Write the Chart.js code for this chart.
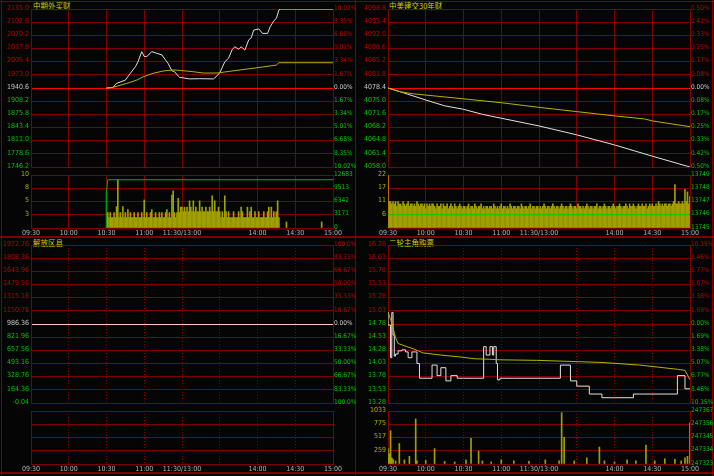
<!DOCTYPE html>
<html>
<head>
<meta charset="utf-8">
<script src="https://cdn.jsdelivr.net/npm/chart.js@4.4.0/dist/chart.umd.min.js"></script>
<style>
html,body{margin:0;padding:0;background:#000;}
#box{position:relative;width:714px;height:476px;overflow:hidden;background:#050505;}
#box canvas{position:absolute;}
.ln{position:absolute;background:#800000;}
.ttl{position:absolute;color:#d0d000;font:7.5px "Noto Sans CJK SC";line-height:9px;white-space:nowrap;}
</style>
</head>
<body>
<div id="box">
  <div class="ln" style="left:0;top:1px;width:714px;height:1px"></div>
  <div class="ln" style="left:1px;top:0;width:1px;height:476px"></div>
  <div class="ln" style="left:355px;top:0;width:1px;height:476px"></div>
  <div class="ln" style="left:712px;top:0;width:1px;height:476px"></div>
  <div class="ln" style="left:0;top:236px;width:714px;height:2px"></div>
  <div class="ln" style="left:0;top:472px;width:714px;height:2px"></div>
  <div class="ttl" style="left:33px;top:1px">中期外买财</div>
  <div class="ttl" style="left:389px;top:1px">中美建交30年财</div>
  <div class="ttl" style="left:33px;top:238px">解放区县</div>
  <div class="ttl" style="left:389px;top:238px">二轮主角购票</div>
</div>
<script>
// minute axis: 0 = 09:30, 120 = 11:30/13:00, 240 = 15:00
var timeTicks = [0, 30, 60, 90, 120, 150, 180, 210, 240];
var timeLabels = ['09:30', '10:00', '10:30', '11:00', '11:30/13:00', '', '14:00', '14:30', '15:00'];

// ---- top left
var tlPriceLbl = ['2135.0','2102.6','2070.2','2037.8','2005.4','1973.0','1940.6','1908.2','1875.8','1843.4','1811.0','1778.6','1746.2'];
var tlPctLbl = ['10.02%','8.35%','6.68%','5.01%','3.34%','1.67%','0.00%','1.67%','3.34%','5.01%','6.68%','8.35%','10.02%'];
var tlMin = [60,65,68,75,79,83,85,88,90,92,96,100,104,107,109,112,114,117,118,126,134,145,147,150,154,157,160,162,165,167,170,173,175,177,181,184,188,190,193,195,197,198,240];
var tlLast = [1940.6,1942,1952,1960,1977,1993,2005,2030,2018,2018,2030,2026,2022,2009,2001,1983,1981,1970,1967,1963,1963.5,1963,1968,1978,2005,2014,2036,2042,2036,2042,2034,2059,2064,2083,2086,2075,2075,2091,2106,2112,2132.5,2135,2135];
var tlAvgMin = [60,65,76,84,89,97,105,113,118,128,137,148,158,171,182,195,197,240];
var tlAvg = [1940.6,1942,1952,1960,1968,1976.8,1982.4,1985,1984,1981,1977.5,1977.5,1981.7,1987,1991.5,1997,2002.8,2002.8];
var tlVolLeft = ['10','8','5','3',''];
var tlVolRight = ['12683','9513','6342','3171','0'];
var tlVolStart = 60;
var tlVol = [8700,3700,2500,3700,2500,2500,3700,2500,5100,11500,
 2500,3700,2500,5100,2500,3700,2500,4400,2500,3700,
 2500,2500,3700,2500,2500,3700,2500,2500,3700,2500,
 6700,2500,3700,2500,2500,3700,4400,2500,2500,3700,
 2500,2500,3700,2500,3700,2500,2500,3700,4400,2500,
 3700,2500,7900,8900,3700,2500,3700,7100,3700,5000,
 5000,3900,5000,3900,5000,3900,6500,5000,3900,6500,
 3900,5000,3900,3900,6500,3900,5000,3900,3900,5000,
 3900,3900,5000,3900,7700,3900,6500,3900,3900,5000,
 3900,2500,3900,2500,7700,3900,2500,3900,2500,2500,
 2500,3900,2500,2500,2500,3900,2500,5000,3900,2500,
 2500,2500,5000,2500,3900,5000,2500,2500,3900,2500,
 2500,3900,2500,2500,2500,3900,2500,2500,3900,5000,
 2500,5000,2500,3900,2500,3900,6500,2500];
var tlVolLateMin = [203, 231];
var tlVolLate = [1450, 1450];
var tlRatioMin = [60, 61, 240];
var tlRatio = [8700, 11545, 11545];

// ---- top right
var trPriceLbl = ['4098.8','4095.4','4092.0','4088.6','4085.2','4081.8','4078.4','4075.0','4071.6','4068.2','4064.8','4061.4','4058.0'];
var trPctLbl = ['0.50%','0.42%','0.33%','0.25%','0.17%','0.08%','0.00%','0.08%','0.17%','0.25%','0.33%','0.42%','0.50%'];
var trMin = [0,10,30,45,60,75,90,120,150,180,210,240];
var trLast = [4078.4,4077.4,4075.3,4073.8,4072.9,4071.6,4070.6,4068.6,4066.3,4063.7,4060.8,4058.0];
var trAvgMin = [0,10,20,60,90,120,150,180,204,210,240];
var trAvg = [4078.4,4077.4,4076.9,4075.6,4074.6,4073.4,4072.3,4071.2,4070.4,4069.9,4068.4];
var trVolLeft = ['22','17','11','6',''];
var trVolRight = ['13749','13748','13747','13746','13745'];
var trVol = [22,
 11,11,10,11,10,11,9,11,10,10,9,11,10,9,10,11,9,10,10,9,
 10,9,11,10,9,10,10,9,10,8,10,9,10,9,10,10,9,8,10,9,
 9,10,8,10,9,9,10,8,9,10,9,8,10,9,8,9,10,9,8,9,
 9,8,9,10,8,9,9,8,10,9,8,9,9,10,8,9,8,9,9,8,
 9,9,8,10,9,8,9,8,9,10,8,9,9,8,9,8,10,9,8,9,
 9,8,9,9,8,10,9,8,9,9,8,9,10,8,9,9,8,9,9,8,
 9,8,9,10,9,8,9,9,8,9,10,9,8,9,9,8,9,10,9,8,
 9,9,8,9,10,9,8,9,9,8,10,9,9,8,9,8,9,10,9,8,
 9,9,8,9,9,10,8,9,9,8,9,10,9,8,9,9,8,9,10,9,
 8,9,9,10,9,8,9,9,10,9,8,10,9,9,10,9,8,9,10,9,
 9,10,9,9,10,8,9,10,9,10,9,9,10,9,11,10,9,10,9,10,
 10,9,10,10,9,10,11,18,10,10,11,10,10,11,10,16,11,15,10,13];
var trHoldMin = [0, 240];
var trHold = [13746, 13746];

// ---- bottom left (no trades)
var blPriceLbl = ['1972.76','1808.36','1643.96','1479.56','1315.16','1150.76','986.36','821.96','657.56','493.16','328.76','164.36','-0.04'];
var blPctLbl = ['100.0%','83.33%','66.67%','50.00%','33.33%','16.67%','0.00%','16.67%','33.33%','50.00%','66.67%','83.33%','100.0%'];

// ---- bottom right
var brPriceLbl = ['16.28','16.03','15.78','15.53','15.28','15.03','14.78','14.53','14.28','14.03','13.78','13.53','13.28'];
var brPctLbl = ['10.15%','8.46%','6.77%','5.07%','3.38%','1.69%','0.00%','1.69%','3.38%','5.07%','6.77%','8.46%','10.15%'];
var brMin = [0,2,3,4,5,6,8,11,14,16,19,20,23,25,27,35,39,42,46,50,55,60,70,76,78,81,83,84,86,87,89,100,120,137,139,145,150,160,170,180,195,200,230,236,240];
var brLast = [15.01,14.76,14.14,15.0,14.57,14.17,14.21,14.27,14.29,14.25,14.14,14.25,14.25,14.03,13.75,13.75,14.0,13.8,13.95,13.7,13.8,13.75,13.75,13.75,14.35,14.19,14.35,14.19,14.35,14.03,13.72,13.75,13.75,13.75,14.0,14.0,13.7,13.6,13.45,13.38,13.38,13.45,13.45,13.8,13.55];
var brAvgMin = [0,3,6,8,15,20,28,42,55,69,81,89,118,170,200,230,236,240];
var brAvg = [15.01,14.8,14.52,14.41,14.35,14.31,14.23,14.19,14.16,14.12,14.11,14.10,14.09,14.05,14.0,13.92,13.9,13.72];
var brVolLeft = ['1033','775','517','259',''];
var brVolRight = ['247367','247356','247345','247334','247323'];
var brVolMin = [0,1,2,3,4,6,9,13,17,22,23,30,37,45,53,62,66,72,75,82,90,100,112,125,136,138,140,148,158,168,172,180,190,197,205,212,220,228,233,236,238,240];
var brVol = [300,200,650,120,90,60,400,80,150,880,60,70,300,50,40,80,500,250,60,40,80,60,50,80,60,1000,520,60,120,330,60,40,80,60,370,60,100,90,60,120,150,800];

var RED = '#c00000', GRN = '#00c800', WHT = '#c8c8c8', GRID = '#800000';
var LAST = '#e0e0e0', AVG = '#b4b400', BAR = '#a0a000';
var NUM = "'DejaVu Sans Condensed',sans-serif";

function addCanvas(x, y, w, h) {
    var c = document.createElement('canvas');
    c.width = w; c.height = h;
    c.style.left = x + 'px'; c.style.top = y + 'px';
    document.getElementById('box').appendChild(c);
    return c;
}

function pts(xs, ys) {
    return xs.map(function (m, i) { return { x: m, y: ys[i] }; });
}

function xAxis(h, showLabels, dashed) {
    return {
        type: 'linear', min: 0, max: 240, offset: false,
        afterFit: function (s) { s.height = h; s.paddingLeft = 0; s.paddingRight = 0; },
        afterBuildTicks: function (s) { s.ticks = timeTicks.map(function (v) { return { value: v }; }); },
        ticks: {
            display: showLabels, autoSkip: false, maxRotation: 0, padding: 1,
            color: '#b4b4b4', font: { family: NUM, size: 7 },
            callback: function (v, i) { return timeLabels[i]; }
        },
        grid: { color: GRID, drawTicks: false, offset: false },
        border: { color: GRID, dash: dashed ? [1, 2] : [] }
    };
}

// labels come top->bottom, ticks are bottom->top
function yAxis(pos, w, min, max, vals, labels, colorFn, gridFn) {
    var lbl = labels.slice().reverse();
    var right = pos === 'right';
    return {
        position: pos, min: min, max: max,
        afterFit: function (s) { s.width = w; s.paddingTop = 0; s.paddingBottom = 0; },
        afterBuildTicks: function (s) { s.ticks = vals.map(function (v) { return { value: v }; }); },
        ticks: {
            autoSkip: false, padding: right ? 1 : 2, labelOffset: -1,
            font: { family: NUM, size: right ? 6.5 : 7 },
            color: function (c) { return colorFn(c.index); },
            callback: function (v, i) { return lbl[i]; }
        },
        grid: gridFn ? { color: function (c) { return gridFn(c.index); }, drawTicks: false } : { display: false, drawTicks: false },
        border: { color: GRID }
    };
}

// cw: canvas width, extra room on the right keeps the % labels unclipped
function priceChart(left, top, cw, sets, priceLbl, pctLbl, midColor, zeroColor, dashed) {
    var vals = priceLbl.map(parseFloat).reverse();
    var mid = (vals.length - 1) / 2;
    var col = function (i) { return i < mid ? GRN : (i === mid ? midColor : RED); };
    var grd = function (i) { return i === mid ? zeroColor : GRID; };
    new Chart(addCanvas(left, top, cw, 170), {
        type: 'line',
        data: { datasets: sets },
        options: {
            responsive: false, animation: false, events: [],
            layout: { padding: { top: 9, left: 0, right: cw - 357, bottom: 0 } },
            plugins: { legend: { display: false }, tooltip: { enabled: false } },
            elements: { point: { radius: 0 }, line: { borderWidth: 1, tension: 0 } },
            scales: {
                x: xAxis(3, false, dashed),
                y: yAxis('left', 31, vals[0], vals[vals.length - 1], vals, priceLbl, col, grd),
                y2: yAxis('right', 24, vals[0], vals[vals.length - 1], vals, pctLbl, col, null)
            }
        }
    });
}

function volChart(left, top, cw, sets, max, leftLbl, rightLbl, rightMin, rightMax, dashed) {
    var lv = [0, max / 4, max / 2, max * 3 / 4, max];
    var rv = rightLbl.map(parseFloat).reverse();
    var yl = function () { return '#b4b400'; };
    var gr = function () { return GRN; };
    new Chart(addCanvas(left, top, cw, 71), {
        type: 'bar',
        data: { datasets: sets },
        options: {
            responsive: false, animation: false, events: [],
            layout: { padding: { top: 8, left: 0, right: cw - 357, bottom: 0 } },
            plugins: { legend: { display: false }, tooltip: { enabled: false } },
            scales: {
                x: xAxis(10, true, dashed),
                y: yAxis('left', 31, 0, max, lv, leftLbl, yl, function () { return GRID; }),
                y2: yAxis('right', 24, rightMin, rightMax, rv, rightLbl, gr, null)
            }
        }
    });
}

function lineSet(xs, ys, color, stepped) {
    return { type: 'line', data: pts(xs, ys), borderColor: color, borderWidth: 1, pointRadius: 0, stepped: stepped || false, yAxisID: 'y' };
}

// top left
priceChart(0, 0, 380, [
    lineSet(tlAvgMin, tlAvg, AVG),
    lineSet(tlMin, tlLast, LAST)
], tlPriceLbl, tlPctLbl, WHT, '#ff0000', false);

var tlVolPts = tlVol.map(function (v, i) { return { x: tlVolStart + i, y: v }; }).concat(pts(tlVolLateMin, tlVolLate));
volChart(0, 167, 380, [
    { type: 'line', data: pts(tlRatioMin, tlRatio), borderColor: '#00b400', borderWidth: 1, pointRadius: 0, yAxisID: 'y', order: 0 },
    { type: 'bar', data: tlVolPts, barThickness: 1, yAxisID: 'y', order: 1,
      backgroundColor: function (c) { return c.dataIndex === 0 ? '#00a000' : BAR; } }
], 12683, tlVolLeft, tlVolRight, 0, 12683, false);

// top right
priceChart(357, 0, 357, [
    lineSet(trAvgMin, trAvg, AVG),
    lineSet(trMin, trLast, LAST)
], trPriceLbl, trPctLbl, WHT, '#ff0000', false);

volChart(357, 167, 357, [
    { type: 'line', data: pts(trHoldMin, trHold), borderColor: '#00c800', borderWidth: 1, pointRadius: 0, yAxisID: 'y2', order: 0 },
    { type: 'bar', data: trVol.map(function (v, i) { return { x: i, y: v }; }), barThickness: 1, yAxisID: 'y', order: 1,
      backgroundColor: function (c) { return c.dataIndex === 0 ? '#e07800' : BAR; } }
], 22, trVolLeft, trVolRight, 13745, 13749, false);

// bottom left
priceChart(0, 236, 380, [], blPriceLbl, blPctLbl, WHT, '#ffc8c8', true);
volChart(0, 403, 380, [], 4, ['', '', '', '', ''], ['', '', '', '', ''], 0, 4, true);

// bottom right
priceChart(357, 236, 357, [
    lineSet(brAvgMin, brAvg, AVG),
    lineSet(brMin, brLast, LAST, 'after')
], brPriceLbl, brPctLbl, GRN, GRID, true);

volChart(357, 403, 357, [
    { type: 'bar', data: pts(brVolMin, brVol), barThickness: 1, yAxisID: 'y', backgroundColor: BAR }
], 1033, brVolLeft, brVolRight, 247323, 247367, true);
</script>
</body>
</html>
